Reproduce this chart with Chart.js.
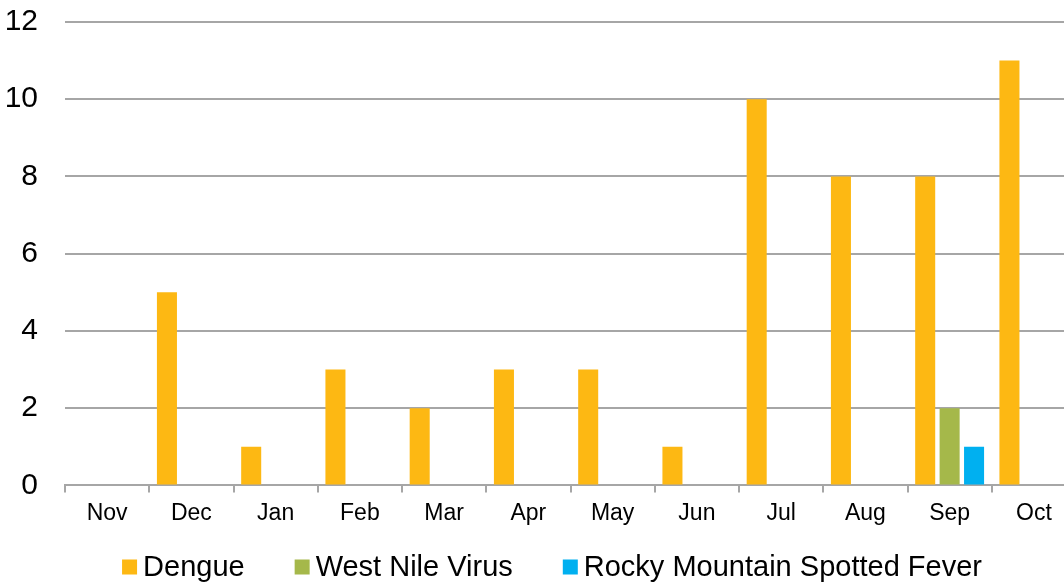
<!DOCTYPE html>
<html>
<head>
<meta charset="utf-8">
<script src="https://cdn.jsdelivr.net/npm/chart.js@4"></script>
<style>
html,body{margin:0;padding:0;background:#fff;overflow:hidden;}
#wrap{width:1104px;height:582px;position:relative;}
</style>
</head>
<body>
<div id="wrap"><canvas id="c"></canvas></div>
<script>
const months = ['Nov','Dec','Jan','Feb','Mar','Apr','May','Jun','Jul','Aug','Sep','Oct'];
const dengue = [0,5,1,3,2,3,3,1,10,8,8,11];
const westNile = [0,0,0,0,0,0,0,0,0,0,2,0];
const rmsf = [0,0,0,0,0,0,0,0,0,0,1,0];
const yTicks = [0,2,4,6,8,10,12];

const FONT = '"Liberation Sans", Arial, sans-serif';
Chart.defaults.font.family = FONT;
Chart.defaults.color = '#000';

const bottomLegend = {
  id: 'bottomLegend',
  afterDraw(chart) {
    const ctx = chart.ctx;
    const size = 29, box = 15, gapText = 6, gapItem = 50;
    ctx.save();
    ctx.font = size + 'px ' + FONT;
    ctx.textBaseline = 'middle';
    ctx.textAlign = 'left';
    const items = chart.data.datasets.map(d => ({
      text: d.label, color: d.backgroundColor, w: ctx.measureText(d.label).width
    }));
    let total = 0;
    items.forEach((it, i) => { total += box + gapText + it.w + (i ? gapItem : 0); });
    let x = chart.width / 2 - total / 2;
    const cy = 567;
    items.forEach(it => {
      ctx.fillStyle = it.color;
      ctx.fillRect(x, cy - box / 2, box, box);
      ctx.fillStyle = '#000';
      ctx.fillText(it.text, x + box + gapText, cy + 1);
      x += box + gapText + it.w + gapItem;
    });
    ctx.restore();
  }
};

new Chart(document.getElementById('c'), {
  type: 'bar',
  data: {
    labels: months,
    datasets: [
      {label:'Dengue', data: dengue, backgroundColor:'#FDB813'},
      {label:'West Nile Virus', data: westNile, backgroundColor:'#A5B84A'},
      {label:'Rocky Mountain Spotted Fever', data: rmsf, backgroundColor:'#00B0F0'}
    ]
  },
  plugins: [bottomLegend],
  options: {
    responsive: true,
    maintainAspectRatio: false,
    animation: false,
    layout: {padding: {top: 0, left: 5, right: 28, bottom: 48}},
    datasets: {bar: {categoryPercentage: 0.87, barPercentage: 0.82}},
    plugins: {
      tooltip: {enabled: false},
      legend: {display: false}
    },
    scales: {
      x: {
        grid: {offset: true, drawOnChartArea: false, drawTicks: true, tickLength: 7, color:'#a6a6a6', lineWidth: 2},
        border: {color:'#a6a6a6', width: 2},
        ticks: {font: {size: 23}, padding: 7, color:'#000'}
      },
      y: {
        min: 0, max: 12,
        afterBuildTicks: (s) => { s.ticks = yTicks.map(v => ({value: v})); },
        afterFit: (s) => { s.width = 60; s.paddingTop = 22; },
        grid: {color:'#a6a6a6', lineWidth: 2, drawTicks: false},
        border: {display: false},
        ticks: {font: {size: 30, lineHeight: 1.2}, padding: 27, color:'#000'}
      }
    }
  }
});
</script>
</body>
</html>
